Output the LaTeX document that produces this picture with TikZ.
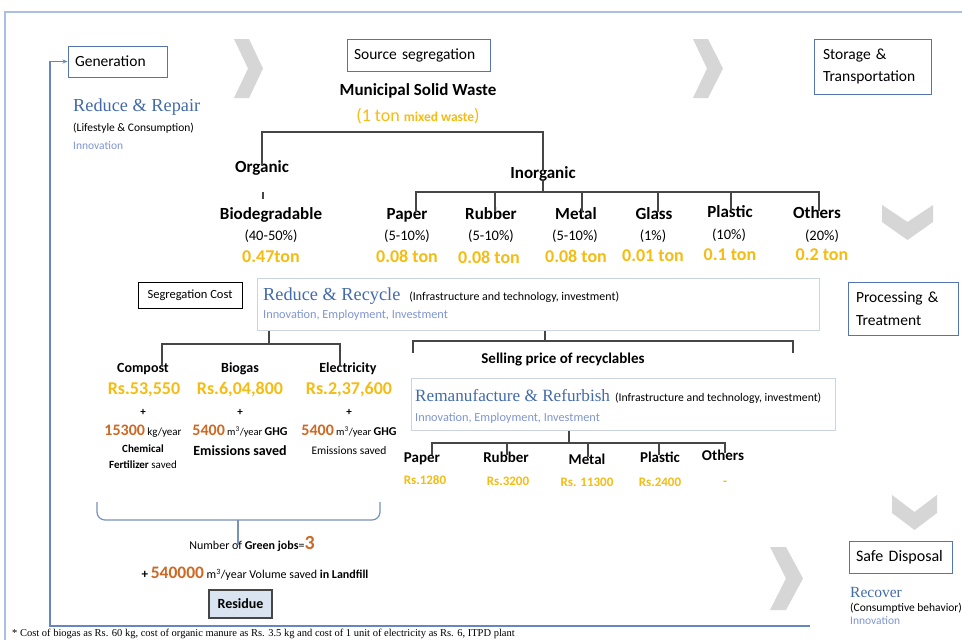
\documentclass[tikz,border=0pt]{standalone}
\usepackage{fontspec}
\setmainfont{Carlito}
\newfontfamily\serifh{Liberation Serif}
\usetikzlibrary{arrows.meta}
\definecolor{boxblue}{RGB}{84,116,178}
\definecolor{frameblue}{RGB}{170,192,225}
\definecolor{loopblue}{RGB}{100,135,190}
\definecolor{titleblue}{RGB}{67,107,170}
\definecolor{innov}{RGB}{128,150,210}
\definecolor{goldc}{RGB}{245,188,20}
\definecolor{orng}{RGB}{205,105,35}
\definecolor{chev}{RGB}{214,214,214}
\definecolor{treec}{RGB}{70,70,70}
\definecolor{rrborder}{RGB}{205,212,225}
\definecolor{bracec}{RGB}{120,145,185}
\definecolor{resfill}{RGB}{218,228,240}
\newcommand\fz[1]{\fontsize{#1}{#1}\selectfont}
\begin{document}
\begin{tikzpicture}[x=1pt,y=-1pt,
  box/.style={draw=boxblue, line width=1pt, align=left, font=\fz{15.5}},
  rrbox/.style={draw=rrborder, line width=1pt, fill=white},
  lbl/.style={inner sep=0pt, text height=.72em, text depth=.22em},
  catb/.style={lbl, font=\bfseries\fz{17}},
  subb/.style={lbl, font=\bfseries\fz{14}},
  lowb/.style={lbl, font=\bfseries\fz{15}},
  pct/.style={lbl, font=\fz{14.5}},
  goldv/.style={lbl, font=\bfseries\fz{18}, text=goldc},
  goldl/.style={lbl, font=\bfseries\fz{13}, text=goldc},
  plus/.style={lbl, font=\bfseries\fz{11}},
  tree/.style={draw=treec, line width=1.2pt},
  sml/.style={inner sep=0pt, anchor=west, font=\fz{11.5}},
  inn/.style={inner sep=0pt, anchor=west, font=\fz{11.5}, text=innov},
  head/.style={inner sep=0pt, anchor=west, font=\serifh\fz{18.3}, text=titleblue}
]
\useasboundingbox (0,0) rectangle (962,640);
\fill[white] (0,0) rectangle (962,640);

% outer frame
\draw[frameblue, line width=1.5pt] (5,640) -- (5,12) -- (962,12);

% chevrons
\fill[chev] (234,39) -- (249,39) -- (263,68.5) -- (249,98) -- (234,98) -- (248,68.5) -- cycle;
\fill[chev] (693,39) -- (708,39) -- (723,68.5) -- (708,98) -- (693,98) -- (707,68.5) -- cycle;
\fill[chev] (770,547) -- (786,547) -- (803,578.5) -- (786,610) -- (770,610) -- (786,578.5) -- cycle;
\fill[chev] (882,205) -- (907.5,222) -- (933,205) -- (933,222) -- (907.5,240) -- (882,222) -- cycle;
\fill[chev] (892,495) -- (914.5,512) -- (937,495) -- (937,513) -- (914.5,530) -- (892,513) -- cycle;

% stage boxes
\node[box, minimum width=99pt, minimum height=31pt, text width=85pt, inner xsep=7pt] (gen) at (117.5,61.5) {Generation};
\node[box, minimum width=143pt, minimum height=32pt, text width=129pt, inner xsep=7pt] (src) at (418.5,55) {Source segregation};
\node[box, minimum width=117pt, minimum height=55pt, text width=99pt, inner xsep=9pt, font=\fontsize{15.5}{22.5}\selectfont] (stor) at (872.5,66.5) {Storage \&\\Transportation};
\node[box, minimum width=110pt, minimum height=53pt, text width=94pt, inner xsep=8pt, font=\fontsize{15.5}{22.5}\selectfont] (proc) at (903,308.5) {Processing \&\\Treatment};
\node[box, minimum width=103pt, minimum height=32pt, text width=89pt, inner xsep=7pt, font=\fz{16}] (safe) at (900.5,557) {Safe Disposal};

% feedback loop
\coordinate (loopend) at (810,626);
\coordinate (loopbl) at (50,626);
\draw[loopblue, line width=1.2pt, -{Stealth[length=5pt,width=4pt]}] (loopend) -- (loopbl) -- (loopbl |- gen.west) -- (gen.west);

% Reduce & Repair
\node[head] (rrep) at (73,107) {Reduce \& Repair};
\node[sml] (life) at (73,128) {(Lifestyle \& Consumption)};
\node[inn] (inn1) at (73,146) {Innovation};

% MSW
\node[catb] (msw) at (418,93) {Municipal Solid Waste};
\node[inner sep=0pt, text=goldc] (mix) at (418,116) {\fz{18}(1 ton {\bfseries\fz{13.5}mixed waste}\fz{18})};
\node[catb] (org) at (262,170) {Organic};
\node[catb] (inorg) at (543,176) {Inorganic};
\coordinate (mbar) at (400,132);
\draw[tree] (org.north) -- (org.north |- mbar) -- (inorg.north |- mbar) -- (inorg.north);

% organic branch
\coordinate (otick1) at (263,192);
\coordinate (otick2) at (263,199);
\draw[tree] (otick1) -- (otick2);
\node[catb] (bio) at (271,217) {Biodegradable};
\node[pct] (biop) at (271,238) {(40-50\%)};
\node[goldv] (biot) at (271,260) {0.47ton};

% inorganic branch
\node[catb] (ipaper) at (407,217) {Paper};
\node[catb] (irubber) at (491,217) {Rubber};
\node[catb] (imetal) at (576,217) {Metal};
\node[catb] (iglass) at (654,217) {Glass};
\node[catb] (iplastic) at (730,215) {Plastic};
\node[catb] (iothers) at (817,216) {Others};
\node[pct] at (407,238) {(5-10\%)};
\node[pct] at (491,238) {(5-10\%)};
\node[pct] at (575,238) {(5-10\%)};
\node[pct] at (653,238) {(1\%)};
\node[pct] at (729,237) {(10\%)};
\node[pct] at (822,238) {(20\%)};
\node[goldv] at (407,260) {0.08 ton};
\node[goldv] at (489,261) {0.08 ton};
\node[goldv] at (576,260) {0.08 ton};
\node[goldv] at (653,259) {0.01 ton};
\node[goldv] at (730,258) {0.1 ton};
\node[goldv] at (822,258) {0.2 ton};
\coordinate (ibar) at (543,192);
\draw[tree] (inorg.south) -- (inorg.south |- ibar);
\draw[tree] ([xshift=9pt]ipaper.north) -- ([xshift=9pt]ipaper.north |- ibar) -- ([xshift=2pt]iothers.north |- ibar) -- ([xshift=2pt]iothers.north);
\foreach \n/\o in {irubber/4, imetal/6, iglass/4, iplastic/1}
  \draw[tree] ([xshift=\o pt]\n.north) -- ([xshift=\o pt]\n.north |- ibar);

% segregation cost
\node[draw=black, line width=0.8pt, minimum width=104pt, minimum height=26pt, inner sep=0pt, font=\fz{12.5}] (segc) at (190,295) {Segregation Cost};

% Reduce & Recycle box
\node[rrbox, minimum width=562pt, minimum height=52pt] (rr) at (538,304) {};
\node[head] (rrt) at (263,296) {Reduce \& Recycle\hspace{9pt}{\fontspec{Carlito}\fz{11.9}\color{black}(Infrastructure and technology, investment)}};
\node[inn, font=\fz{12.3}] (rri) at (263,315) {Innovation, Employment, Investment};

% organic products
\node[subb] (comp) at (143,370) {Compost};
\node[subb] (biog) at (240,370) {Biogas};
\node[subb] (elec) at (348,370) {Electricity};
\node[goldv] (compv) at (144,392) {Rs.53,550};
\node[goldv] (biogv) at (240,392) {Rs.6,04,800};
\node[goldv] (elecv) at (349,392) {Rs.2,37,600};
\node[plus] at (143,413) {+};
\node[plus] at (240,413) {+};
\node[plus] at (349,413) {+};
\node[lbl] (c1) at (143,433) {{\bfseries\fz{16}\color{orng}15300} {\fz{11}kg/year}};
\node[lbl] (b1) at (240,433) {{\bfseries\fz{16}\color{orng}5400} {\fz{10.5}m\textsuperscript{3}/year} {\bfseries\fz{12}GHG}};
\node[lbl] (e1) at (349,433) {{\bfseries\fz{16}\color{orng}5400} {\fz{10.5}m\textsuperscript{3}/year} {\bfseries\fz{12}GHG}};
\node[lbl, font=\bfseries\fz{11}] (c2) at (143,450) {Chemical};
\node[lbl, font=\fz{11}] (c3) at (143,466) {\textbf{Fertilizer} saved};
\node[lbl, font=\bfseries\fz{14}] (b2) at (240,453) {Emissions saved};
\node[lbl, font=\fz{11.5}] (e2) at (349,452) {Emissions saved};
\coordinate (lbar) at (269,344);
\draw[tree] (rr.south -| lbar) -- (lbar);
\draw[tree] ([xshift=19pt]comp.north) -- ([xshift=19pt]comp.north |- lbar) -- ([xshift=-8pt]elec.north |- lbar) -- ([xshift=-8pt]elec.north);

% recyclables
\coordinate (rbar) at (545,341);
\coordinate (rbl) at (413,353);
\coordinate (rbr) at (793,353);
\draw[tree] (rr.south -| rbar) -- (rbar);
\draw[tree] (rbl) -- (rbl |- rbar) -- (rbr |- rbar) -- (rbr);
\node[lowb] (sell) at (563,361) {Selling price of recyclables};

\node[rrbox, minimum width=424pt, minimum height=52pt] (rm) at (623,404) {};
\node[head, font=\serifh\fz{17.2}] (rmt) at (415,396) {Remanufacture \& Refurbish\hspace{5pt}{\fontspec{Carlito}\fz{11.7}\color{black}(Infrastructure and technology, investment)}};
\node[inn, font=\fz{12.3}] (rmi) at (415,418) {Innovation, Employment, Investment};

\node[lowb] (rpaper) at (422,460) {Paper};
\node[lowb] (rrubber) at (506,460) {Rubber};
\node[lowb] (rmetal) at (587,462) {Metal};
\node[lowb] (rplastic) at (660,460) {Plastic};
\node[lowb] (rothers) at (723,458) {Others};
\node[goldl] at (425,482) {Rs.1280};
\node[goldl] at (508,483) {Rs.3200};
\node[goldl] at (587,484) {Rs. 11300};
\node[goldl] at (660,484) {Rs.2400};
\node[goldl] at (725,483) {-};
\coordinate (mbar2) at (569,443);
\draw[tree] (rm.south -| mbar2) -- (mbar2);
\draw[tree] ([xshift=10pt]rpaper.north) -- ([xshift=10pt]rpaper.north |- mbar2) -- ([xshift=2pt]rothers.north |- mbar2) -- ([xshift=2pt]rothers.north);
\foreach \n/\o in {rrubber/1, rmetal/1, rplastic/-1}
  \draw[tree] ([xshift=\o pt]\n.north) -- ([xshift=\o pt]\n.north |- mbar2);

% brace and outcomes
\coordinate (brl) at (97,502);
\coordinate (brr) at (380,502);
\coordinate (brc) at (238,520);
\draw[bracec, line width=1.2pt, rounded corners=8pt] (brl) -- (brl |- brc) -- (brr |- brc) -- (brr);
\node[lbl, font=\fz{12}] (jobs) at (252,547) {Number of \textbf{Green jobs}={\bfseries\fz{20}\color{orng}3}};
\draw[bracec, line width=1.2pt] (brc) -- ([yshift=-3pt]jobs.north -| brc);
\node[lbl, font=\fz{12}] (vol) at (255,576) {{\bfseries\fz{13}+} {\bfseries\fz{17.5}\color{orng}540000} m\textsuperscript{3}/year Volume saved \textbf{in Landfill}};
\node[draw=treec, fill=resfill, line width=1.2pt, minimum width=63pt, minimum height=28pt, inner sep=0pt, font=\bfseries\fz{14}] (res) at (240.5,604) {Residue};

% recover
\node[head, font=\serifh\fz{15.5}] (recov) at (850,592) {Recover};
\node[sml] (cons) at (850,608) {(Consumptive behavior)};
\node[inn] (inn3) at (850,621) {Innovation};

% footnote
\node[inner sep=0pt, anchor=west, font=\serifh\fz{10.5}] (foot) at (12,634) {* Cost of biogas as Rs. 60 kg, cost of organic manure as Rs. 3.5 kg and cost of 1 unit of electricity as Rs. 6, ITPD plant};
\end{tikzpicture}
\end{document}
